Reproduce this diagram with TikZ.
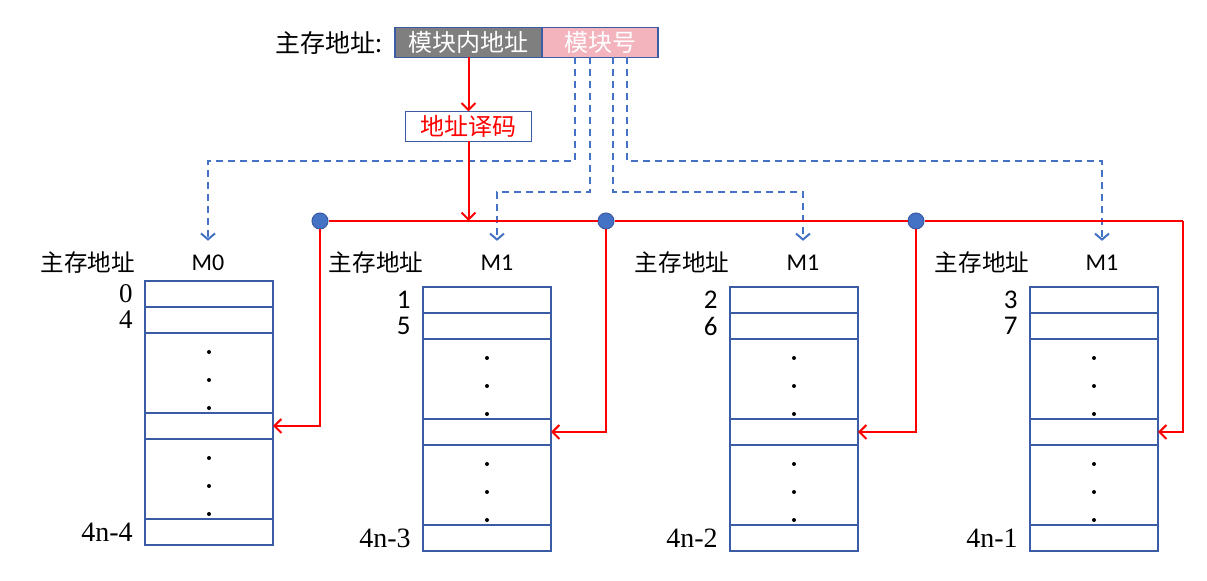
\documentclass[tikz,border=0pt]{standalone}
\usepackage{fontspec}
\setmainfont{Liberation Serif}
\newfontfamily\cjkfont{Noto Sans CJK SC}
\newfontfamily\numfont{Carlito}
\usetikzlibrary{calc,arrows.meta,positioning}
\definecolor{linec}{HTML}{4472C4}
\definecolor{boxc}{HTML}{3B5BA5}
\definecolor{busc}{HTML}{FF0000}
\definecolor{grayf}{HTML}{7F7F7F}
\definecolor{pinkf}{HTML}{F4B4BE}
\tikzset{
  bus/.style={busc,line width=1pt},
  busar/.style={bus,-{Straight Barb[length=3.5pt,width=7pt]}},
  sel/.style={linec,line width=1pt,dash pattern=on 3.5pt off 2.5pt,-{Straight Barb[length=3pt,width=7pt]}},
  field/.style={draw=boxc,line width=0.75pt,outer sep=0pt,inner sep=0pt,minimum height=15pt,text=white,font=\cjkfont\fontsize{12}{14}\selectfont},
  junc/.style={circle,fill=linec,draw=boxc,line width=0.5pt,minimum size=8pt,inner sep=0pt},
  cell/.style={draw=boxc,line width=0.75pt},
  cjk/.style={font=\cjkfont\fontsize{11.8}{13}\selectfont,inner sep=0pt},
  mlab/.style={font=\numfont\fontsize{12}{14}\selectfont,inner xsep=0pt,inner ysep=7pt},
  addr/.style={anchor=east,inner sep=0pt,font=\numfont\fontsize{13.5}{15}\selectfont},
  lastaddr/.style={font=\fontsize{14}{16}\selectfont}
}
% one memory bank: name, left, top, first two addresses, last address
\newcommand{\membank}[6]{%
  \draw[cell] (#2,#3) rectangle ++(128,264);
  \foreach \dy in {26,52,132,158,238}
    \draw[cell] ({#2},{#3+\dy}) -- ++(128,0);
  \foreach \dy in {71,99,127,177,205,233}
    \fill ({#2+64},{#3+\dy}) circle (1pt);
  \coordinate (#1-sel) at ({#2+128},{#3+145});
  \node[addr] (#1-a) at ({#2-12},{#3+13}) {#4};
  \node[addr] (#1-b) at ({#2-12},{#3+39}) {#5};
  \node[addr,lastaddr] (#1-c) at ({#2-12},{#3+251}) {#6};
}

\begin{document}
\begin{tikzpicture}[x=0.5pt,y=-0.5pt]
\useasboundingbox (0,0) rectangle (1207,581);
% address fields
\node[field,fill=grayf,minimum width=73.5pt] (inner) at (468.5,42.5) {模块内地址};
\node[field,fill=pinkf,minimum width=58pt,right=0pt of inner] (modno) {模块号};
\node[cjk,font=\cjkfont\fontsize{12.5}{14}\selectfont,left=6pt of inner] (addrlbl) {主存地址:};
\node[field,fill=white,text=busc,minimum width=63pt,below=27pt of inner] (dec) {地址译码};
% banks
\membank{m0}{145}{281}{\rmfamily\fontsize{13.5}{15}\selectfont 0}{\rmfamily\fontsize{13.5}{15}\selectfont 4}{4n-4}
\membank{m1}{423}{287}{1}{5}{4n-3}
\membank{m2}{730}{287}{2}{6}{4n-2}
\membank{m3}{1030}{287}{3}{7}{4n-1}
\node[cjk] (h0) at (88,263) {主存地址};
\node[cjk] (h1) at (376,263) {主存地址};
\node[cjk] (h2) at (682,263) {主存地址};
\node[cjk] (h3) at (982,263) {主存地址};
\node[mlab] (n0) at (208,263) {M0};
\node[mlab] (n1) at (497,263) {M1};
\node[mlab] (n2) at (803,263) {M1};
\node[mlab] (n3) at (1102,263) {M1};
% module select lines
\draw[sel] ($(modno.south west)+(33,0)$) -- ++(0,104) -| (n0.north);
\draw[sel] ($(modno.south west)+(48,0)$) -- ++(0,135) -| (n1.north);
\draw[sel] ($(modno.south west)+(71,0)$) -- ++(0,135) -| (n2.north);
\draw[sel] ($(modno.south west)+(85,0)$) -- ++(0,104) -| (n3.north);
% bus
\node[junc] (j1) at (320,221) {};
\node[junc] (j2) at (606,221) {};
\node[junc] (j3) at (916,221) {};
\coordinate (bend) at (1183,221);
\draw[busar] (inner.south -| dec.north) -- (dec.north);
\draw[busar] (dec.south) -- (dec.south |- j1);
\draw[bus] (j1) -- (j2) -- (j3) -- (bend);
\draw[busar] (bend) |- (m3-sel);
\draw[busar] (j1) |- (m0-sel);
\draw[busar] (j2) |- (m1-sel);
\draw[busar] (j3) |- (m2-sel);
\end{tikzpicture}
\end{document}
